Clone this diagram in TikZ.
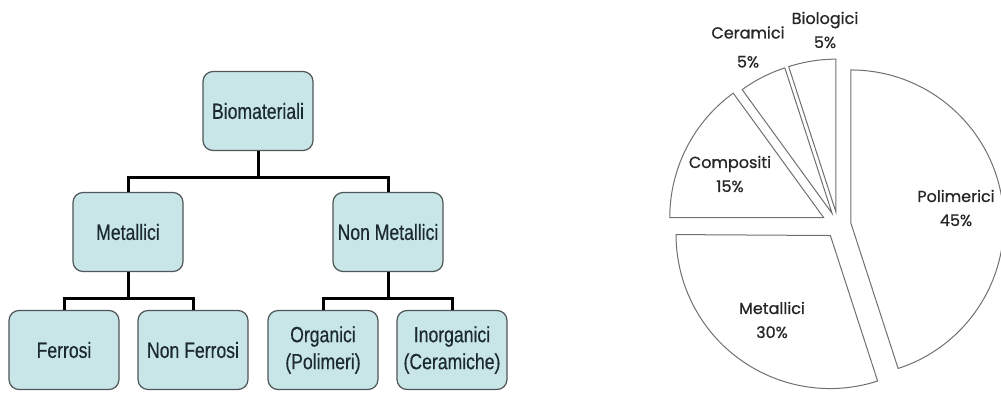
\documentclass[tikz,border=0pt]{standalone}
\usepackage{fontspec}
\setmainfont{Liberation Sans}
\newfontfamily\treefont[FakeStretch=0.8,FakeBold=0.4]{Liberation Sans}
\newfontfamily\piefont[FakeBold=0.8]{Poppins}
\usepackage{xcolor}
\usetikzlibrary{positioning}
\definecolor{boxfill}{RGB}{200,230,232}
\definecolor{boxline}{RGB}{80,85,88}
\definecolor{treetext}{RGB}{28,40,50}
\definecolor{pieline}{RGB}{112,112,112}

\begin{document}
\begin{tikzpicture}[x=1pt,y=1pt,
    box/.style={draw=boxline, line width=1.2pt, fill=boxfill, rounded corners=10pt,
      minimum width=110pt, minimum height=79pt, inner sep=2pt, align=center,
      text=treetext, font=\treefont\fontsize{22}{27}\selectfont},
    conn/.style={line width=3pt, black},
    slice/.style={draw=pieline, line width=1pt, fill=white, line join=miter},
    pielabel/.style={align=center, text=black!85, font=\piefont\fontsize{16}{24}\selectfont}
  ]
  \clip (0,0) rectangle (1001,392);
  % albero dei biomateriali
  \node[box] (bio)   at (258,281) {Biomateriali};
  \node[box] (met)   at (128,160) {Metallici};
  \node[box] (nmet)  at (388,160) {Non Metallici};
  \node[box] (fer)   at (64,42)   {Ferrosi};
  \node[box] (nfer)  at (193,42)  {Non Ferrosi};
  \node[box] (org)   at (323,42)  {Organici\\(Polimeri)};
  \node[box] (inorg) at (452,42)  {Inorganici\\(Ceramiche)};

  \draw[conn] (bio.south) -- ++(0,-26.5) -| (met.north);
  \draw[conn] (bio.south) -- ++(0,-26.5) -| (nmet.north);
  \draw[conn] (met.south) -- ++(0,-26.5) -| (fer.north);
  \draw[conn] (met.south) -- ++(0,-26.5) -| (nfer.north);
  \draw[conn] (nmet.south) -- ++(0,-26.5) -| (org.north);
  \draw[conn] (nmet.south) -- ++(0,-26.5) -| (inorg.north);

  % torta (fette esplose)
  \coordinate (c) at (838,167);
  \draw[slice] (c) ++(9:13)   -- ++(90:153)  arc[start angle=90,  end angle=-72,  radius=153] -- cycle;
  \draw[slice] (c) ++(-126:13) -- ++(-72:153) arc[start angle=-72, end angle=-180, radius=154] -- cycle;
  \draw[slice] (c) ++(153:16) -- ++(180:154) arc[start angle=180, end angle=126,  radius=154] -- cycle;
  \draw[slice] (c) ++(117:13) -- ++(126:153) arc[start angle=126, end angle=108,  radius=153] -- cycle;
  \draw[slice] (c) ++(99:13)  -- ++(108:153) arc[start angle=108, end angle=90,   radius=153] -- cycle;

  \node[pielabel] (lpol) at (956,184) {Polimerici\\45\%};
  \node[pielabel] (lmet) at (772,72)  {Metallici\\30\%};
  \node[pielabel] (lcom) at (730,218) {Compositi\\15\%};
  \node[pielabel] (lcer) at (748,345) {Ceramici\\[5pt]5\%};
  \node[pielabel] (lbio) at (825,362) {Biologici\\5\%};
\end{tikzpicture}
\end{document}
